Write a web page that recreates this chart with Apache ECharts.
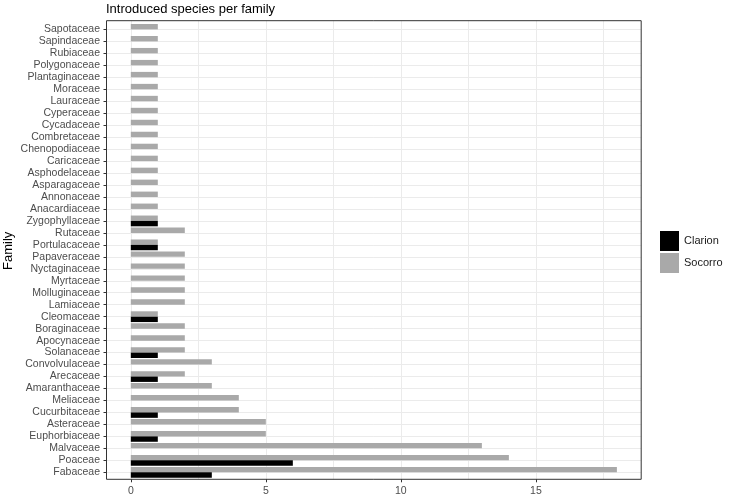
<!DOCTYPE html>
<html><head><meta charset="utf-8">
<script src="https://cdn.jsdelivr.net/npm/echarts@6/dist/echarts.min.js"></script>
<style>html,body{margin:0;padding:0;background:#fff}#c{width:732px;height:499px}</style>
</head><body><div id="c"></div>
<script>
// categories listed bottom -> top
const families = ['Fabaceae','Poaceae','Malvaceae','Euphorbiaceae','Asteraceae','Cucurbitaceae','Meliaceae','Amaranthaceae','Arecaceae','Convolvulaceae','Solanaceae','Apocynaceae','Boraginaceae','Cleomaceae','Lamiaceae','Molluginaceae','Myrtaceae','Nyctaginaceae','Papaveraceae','Portulacaceae','Rutaceae','Zygophyllaceae','Anacardiaceae','Annonaceae','Asparagaceae','Asphodelaceae','Caricaceae','Chenopodiaceae','Combretaceae','Cycadaceae','Cyperaceae','Lauraceae','Moraceae','Plantaginaceae','Polygonaceae','Rubiaceae','Sapindaceae','Sapotaceae'];
const socorro = [18,14,13,5,5,4,4,3,2,3,2,2,2,1,2,2,2,2,2,1,2,1,1,1,1,1,1,1,1,1,1,1,1,1,1,1,1,1];
const clarion = [3,6,0,1,0,1,0,0,1,0,1,0,0,1,0,0,0,0,0,1,0,1,0,0,0,0,0,0,0,0,0,0,0,0,0,0,0,0];
const xTickLabels = [0,5,10,15];
const xGridValues = [0,2.5,5,7.5,10,12.5,15,17.5];
const xMin = -0.9, xMax = 18.9;

const FONT = 'Liberation Sans, Arial, sans-serif';
const chart = echarts.init(document.getElementById('c'));
const L = 106.5, R = 90.8;
chart.setOption({
  animation: false,
  backgroundColor: '#ffffff',
  textStyle: {fontFamily: FONT},
  title: {
    text: 'Introduced species per family', left: 106, top: 3, padding: 0,
    textStyle: {fontSize: 13, fontWeight: 'normal', color: '#000', fontFamily: FONT}
  },
  legend: {
    data: ['Clarion','Socorro'], orient: 'vertical', left: 660, top: 231,
    itemWidth: 19, itemHeight: 20, itemGap: 2, icon: 'rect', padding: 0,
    textStyle: {fontSize: 11, color: '#1a1a1a', fontFamily: FONT}
  },
  grid: [
    {left: L, right: R, top: 20.7, bottom: 499 - 479.3, show: true, borderColor: '#333333', borderWidth: 1, backgroundColor: 'transparent', z: 3, outerBoundsMode: 'none', containLabel: false},
    {left: L, right: R, top: 29.4, bottom: 499 - 472.3, outerBoundsMode: 'none', containLabel: false}
  ],
  xAxis: [
    {gridIndex: 0, type: 'value', min: xMin, max: xMax,
     axisLine: {show: false, onZero: false},
     axisTick: {show: true, length: 3, lineStyle: {color: '#333333'}, customValues: xTickLabels},
     axisLabel: {show: true, customValues: xTickLabels, color: '#4d4d4d', fontSize: 10.5, margin: 6, fontFamily: FONT},
     splitLine: {show: false}},
    {gridIndex: 0, type: 'value', min: xMin, max: xMax,
     axisLine: {show: false, onZero: false},
     axisTick: {show: false, customValues: xGridValues},
     axisLabel: {show: false},
     splitLine: {show: true, lineStyle: {color: '#ebebeb', width: 1}}},
    {gridIndex: 1, type: 'value', min: xMin, max: xMax, show: false, axisLine: {onZero: false}}
  ],
  yAxis: [
    {gridIndex: 0, type: 'value', show: false, axisLine: {onZero: false}},
    {gridIndex: 1, type: 'category', data: families, boundaryGap: false,
     name: 'Family', nameLocation: 'middle', nameGap: 92, nameRotate: 90, nameMoveOverlap: false,
     nameTextStyle: {fontSize: 13, color: '#000', fontFamily: FONT},
     axisLine: {show: false, onZero: false},
     axisTick: {show: true, length: 3, lineStyle: {color: '#333333'}},
     axisLabel: {color: '#4d4d4d', fontSize: 10.5, margin: 6.5, interval: 0, fontFamily: FONT},
     splitLine: {show: true, lineStyle: {color: '#ebebeb', width: 1}}}
  ],
  series: [
    {name: 'Socorro', type: 'bar', xAxisIndex: 2, yAxisIndex: 1, data: socorro,
     barWidth: '45%', barGap: '0%', clip: false, itemStyle: {color: '#a9a9a9'}, z: 2},
    {name: 'Clarion', type: 'bar', xAxisIndex: 2, yAxisIndex: 1, data: clarion,
     barWidth: '45%', barGap: '0%', clip: false, itemStyle: {color: '#000000'}, z: 2}
  ]
});
</script>
</body></html>
